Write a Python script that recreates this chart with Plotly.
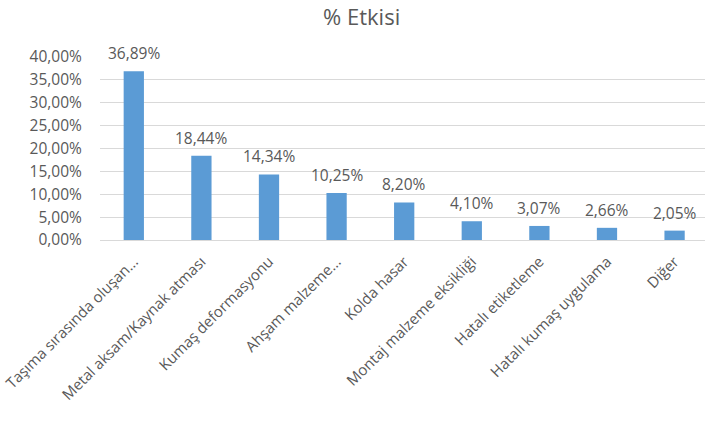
import plotly.graph_objects as go

categories = ["Taşıma sırasında oluşan...", "Metal aksam/Kaynak atması", "Kumaş deformasyonu",
              "Ahşam malzeme...", "Kolda hasar", "Montaj malzeme eksikliği",
              "Hatalı etiketleme", "Hatalı kumaş uygulama", "Diğer"]
values = [0.3689, 0.1844, 0.1434, 0.1025, 0.0820, 0.0410, 0.0307, 0.0266, 0.0205]
y_ticks = [0, 0.05, 0.10, 0.15, 0.20, 0.25, 0.30, 0.35, 0.40]

gray = "#595959"
font_family = "Open Sans, Lato, sans-serif"

fig = go.Figure(go.Bar(
    x=categories, y=values,
    marker=dict(color="#5B9BD5", line=dict(width=0)),
    cliponaxis=False, width=0.3,
))

for c, v in zip(categories, values):
    fig.add_annotation(x=c, y=v, text=f"{v*100:.2f}%".replace(".", ","),
                       showarrow=False, yanchor="bottom", yshift=5,
                       font=dict(color=gray, size=15.5, family=font_family))

fig.update_layout(
    width=705, height=427,
    separators=",.",
    paper_bgcolor="white", plot_bgcolor="white",
    margin=dict(l=100, r=0, t=57, b=187),
    title=dict(text="% Etkisi", x=0.513, xanchor="center", y=0.96, yanchor="middle",
               font=dict(size=22, color=gray, family=font_family)),
    showlegend=False,
    font=dict(family=font_family, color=gray),
)
fig.update_xaxes(range=[-0.5, 8.45], tickangle=-45, showgrid=False, showline=True,
                 linecolor="#d9d9d9", ticks="outside", ticklen=6, tickcolor="rgba(0,0,0,0)",
                 tickfont=dict(size=15, color=gray))
fig.update_yaxes(range=[0, 0.40], tickvals=y_ticks, tickformat=".2%", showgrid=True,
                 gridcolor="#d9d9d9", zeroline=False, showline=False,
                 ticks="outside", ticklen=14, tickcolor="rgba(0,0,0,0)",
                 tickfont=dict(size=15.5, color=gray))

fig.write_html("out.html")
